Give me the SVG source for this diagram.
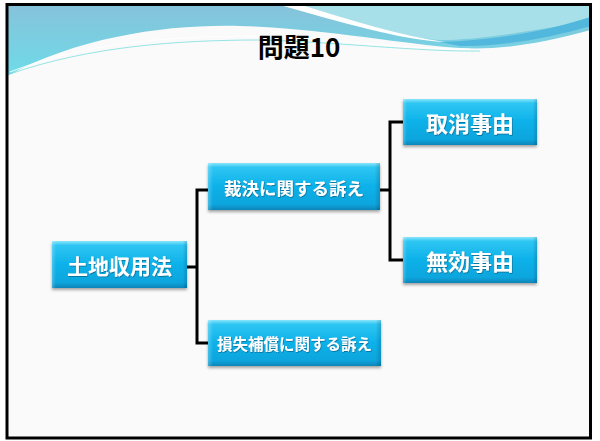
<svg xmlns="http://www.w3.org/2000/svg" width="600" height="441" viewBox="0 0 600 441">
<style>
.lbl{font-family:"Noto Sans CJK JP","Noto Sans CJK SC",sans-serif;font-weight:bold;fill:#ffffff;text-anchor:middle}
.face{fill:url(#gv)}
.edge{fill:url(#gh)}
.conn{fill:none;stroke:#000000;stroke-width:3;stroke-linejoin:miter;stroke-linecap:butt}
.title{font-family:"Noto Sans CJK JP","Noto Sans CJK SC",sans-serif;font-weight:bold;fill:#000000;text-anchor:middle}
</style>
<defs>
<linearGradient id="gv" x1="0" y1="0" x2="0" y2="1">
<stop offset="0" stop-color="#8ae6fb"/>
<stop offset="0.09" stop-color="#2fc6f3"/>
<stop offset="0.5" stop-color="#0cb1e9"/>
<stop offset="0.88" stop-color="#08a5dd"/>
<stop offset="1" stop-color="#0785b8"/>
</linearGradient>
<linearGradient id="gh" x1="0" y1="0" x2="1" y2="0">
<stop offset="0" stop-color="#ffffff" stop-opacity="0.25"/>
<stop offset="0.03" stop-color="#ffffff" stop-opacity="0"/>
<stop offset="0.97" stop-color="#000000" stop-opacity="0"/>
<stop offset="1" stop-color="#003050" stop-opacity="0.2"/>
</linearGradient>
<linearGradient id="hdr" x1="0" y1="0" x2="0" y2="1">
<stop offset="0" stop-color="#86c2da"/>
<stop offset="1" stop-color="#6edbe8"/>
</linearGradient>
<filter id="sh" x="-10%" y="-10%" width="120%" height="140%">
<feDropShadow dx="0" dy="2" stdDeviation="1.5" flood-color="#000000" flood-opacity="0.35"/>
</filter>
<filter id="ts" x="-5%" y="-20%" width="110%" height="140%">
<feDropShadow dx="0.6" dy="0.8" stdDeviation="0.5" flood-color="#003a5a" flood-opacity="0.6"/>
</filter>
</defs>
<rect x="0" y="0" width="600" height="441" fill="#ffffff"/>
<rect x="7" y="4.5" width="583.5" height="433.5" fill="#fafafa"/>
<g id="header">
<path d="M7,4.5 H590.5 V30 C540,44 500,50 460,48 C400,44 320,28 240,26 C170,24 80,36 7,76 Z" fill="url(#hdr)"/>
<path d="M300,4.5 H590.5 V20 C540,30 480,40 440,40 C400,38 350,20 300,4.5 Z" fill="#a8e0ea"/>
<path d="M278,4.5 H300 C350,20 400,36 445,42 C400,40 340,22 278,4.5 Z" fill="#ffffff"/>
<path d="M440,42 C500,40 550,30 590.5,17 V26 C550,38 500,47 460,46 Z" fill="#52b7dc"/>
<path d="M10,72 C80,44 170,36 250,36 C330,38 410,50 470,49" fill="none" stroke="#ffffff" stroke-width="1.2" opacity="0.8"/>
<path d="M10,74 C90,46 180,40 260,40 C340,42 420,52 480,51" fill="none" stroke="#5cd6d6" stroke-width="0.8" opacity="0.8"/>
</g>
<rect x="7" y="4.5" width="583.5" height="433.5" fill="none" stroke="#000000" stroke-width="3"/>
<text class="title" x="299" y="57" font-size="26">問題10</text>
<g id="connectors">
<path class="conn" d="M187,267 H197"/>
<path class="conn" d="M208,190 H197 V343 H208"/>
<path class="conn" d="M380,190 H390"/>
<path class="conn" d="M403,122 H390 V260 H403"/>
</g>
<g id="n1" filter="url(#sh)">
<rect class="face" x="52" y="241" width="135" height="47"/>
<rect class="edge" x="52" y="241" width="135" height="47"/>
<text class="lbl" x="119.5" y="274" font-size="21" filter="url(#ts)">土地収用法</text>
</g>
<g id="n2" filter="url(#sh)">
<rect class="face" x="208" y="163" width="172" height="47"/>
<rect class="edge" x="208" y="163" width="172" height="47"/>
<text class="lbl" x="294" y="195" font-size="17.5" filter="url(#ts)">裁決に関する訴え</text>
</g>
<g id="n3" filter="url(#sh)">
<rect class="face" x="208" y="320" width="173" height="46"/>
<rect class="edge" x="208" y="320" width="173" height="46"/>
<text class="lbl" x="294.5" y="350" font-size="15.5" filter="url(#ts)">損失補償に関する訴え</text>
</g>
<g id="n4" filter="url(#sh)">
<rect class="face" x="403" y="99" width="134" height="46"/>
<rect class="edge" x="403" y="99" width="134" height="46"/>
<text class="lbl" x="470" y="132" font-size="22" filter="url(#ts)">取消事由</text>
</g>
<g id="n5" filter="url(#sh)">
<rect class="face" x="403" y="237" width="134" height="46"/>
<rect class="edge" x="403" y="237" width="134" height="46"/>
<text class="lbl" x="470" y="270" font-size="22" filter="url(#ts)">無効事由</text>
</g>
</svg>
